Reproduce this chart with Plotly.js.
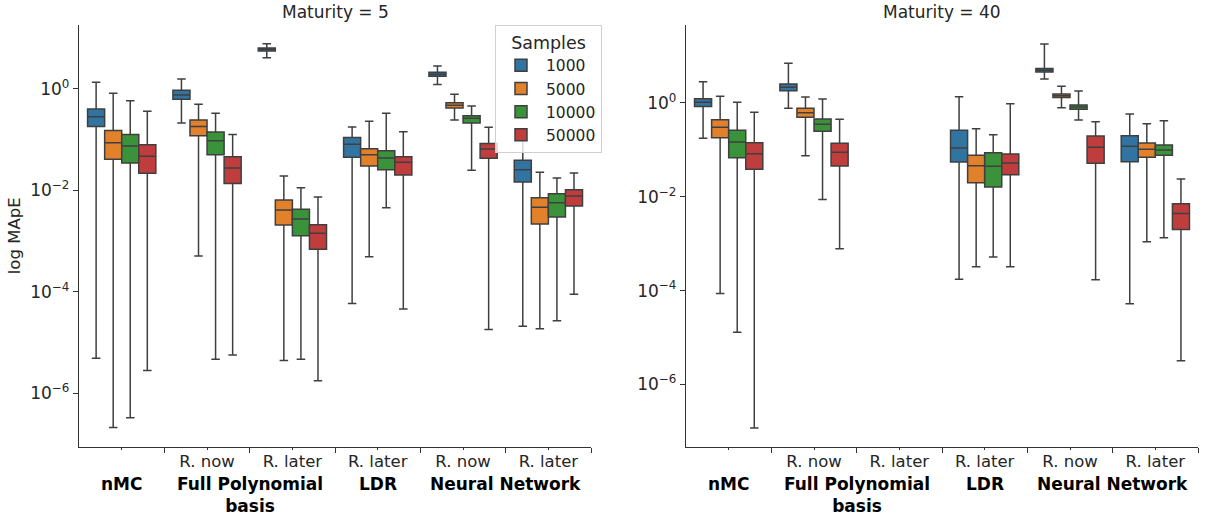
<!DOCTYPE html>
<html>
<head>
<meta charset="utf-8">
<script src="https://cdn.plot.ly/plotly-3.0.1.min.js"></script>
<style>html,body{margin:0;padding:0;background:#fff}#chart{width:1205px;height:515px}</style>
</head>
<body>
<div id="chart"></div>
<script>
// ---- categories ----
const methods   = ['nMC', 'Full Polynomial<br>basis', 'Full Polynomial<br>basis', 'LDR', 'Neural Network', 'Neural Network'];
const subLabels = ['', 'R. now', 'R. later', 'R. later', 'R. now', 'R. later'];
const samples   = ['1000', '5000', '10000', '50000'];
const panelTitles = ['Maturity = 5', 'Maturity = 40'];
const yTickVals = [1e-6, 1e-4, 1e-2, 1];
const yTickText = ['10<sup>−6</sup>', '10<sup>−4</sup>', '10<sup>−2</sup>', '10<sup>0</sup>'];

// ---- Maturity = 5 (rows: samples 1000, 5000, 10000, 50000) ----
const m5_hi = [
  [1.36, 1.57, 7.83, 0.178, 2.84, 0.097],
  [0.822, 0.499, 0.0192, 0.231, 0.785, 0.0228],
  [0.587, 0.331, 0.0113, 0.331, 0.462, 0.0176],
  [0.363, 0.126, 0.00741, 0.144, 0.175, 0.022]
];
const m5_q3 = [
  [0.404, 0.942, 6.44, 0.110, 2.13, 0.0393],
  [0.151, 0.245, 0.00647, 0.0665, 0.537, 0.00718],
  [0.126, 0.142, 0.00424, 0.0607, 0.298, 0.00861],
  [0.0798, 0.0462, 0.00211, 0.0462, 0.0836, 0.0103]
];
const m5_med = [
  [0.284, 0.762, 6.05, 0.0811, 1.95, 0.0256],
  [0.0873, 0.181, 0.0041, 0.0507, 0.476, 0.00465],
  [0.0752, 0.0957, 0.00273, 0.0436, 0.264, 0.00571],
  [0.047, 0.0277, 0.00143, 0.0358, 0.0656, 0.00776]
];
const m5_q1 = [
  [0.181, 0.627, 5.62, 0.045, 1.78, 0.0147],
  [0.041, 0.12, 0.00208, 0.0303, 0.422, 0.00217],
  [0.0347, 0.0507, 0.00128, 0.0256, 0.213, 0.00299],
  [0.0217, 0.0136, 0.00069, 0.0201, 0.043, 0.00492]
];
const m5_lo = [
  [4.9e-6, 0.213, 4.15, 5.9e-5, 1.22, 2.1e-5],
  [2.1e-7, 5.1e-4, 4.4e-6, 4.9e-4, 0.245, 1.87e-5],
  [3.3e-7, 4.7e-6, 4.7e-6, 0.00456, 0.0249, 2.7e-5],
  [2.8e-6, 5.7e-6, 1.77e-6, 4.6e-5, 1.8e-5, 8.9e-5]
];

// ---- Maturity = 40 ----
const m40_hi = [
  [2.85, 7.01, null, 1.36, 18.2, 0.582],
  [1.39, 1.34, null, 0.283, 2.27, 0.362],
  [1.035, 1.22, null, 0.211, 1.8, 0.42],
  [0.632, 0.448, null, 0.968, 0.399, 0.0239]
];
const m40_q3 = [
  [1.236, 2.54, null, 0.261, 5.4, 0.201],
  [0.441, 0.769, null, 0.0764, 1.56, 0.14],
  [0.261, 0.455, null, 0.0871, 0.906, 0.127],
  [0.142, 0.138, null, 0.0815, 0.198, 0.0071]
];
const m40_med = [
  [1.03, 2.16, null, 0.11, 4.98, 0.119],
  [0.303, 0.622, null, 0.046, 1.43, 0.103],
  [0.147, 0.35, null, 0.0445, 0.822, 0.0993],
  [0.0828, 0.0885, null, 0.0524, 0.113, 0.00442]
];
const m40_q1 = [
  [0.836, 1.83, null, 0.0551, 4.58, 0.056],
  [0.182, 0.494, null, 0.02, 1.3, 0.0693],
  [0.0679, 0.248, null, 0.0161, 0.734, 0.0764],
  [0.0385, 0.0452, null, 0.0295, 0.0516, 0.00201]
];
const m40_lo = [
  [0.176, 0.769, null, 1.75e-4, 3.25, 5.2e-5],
  [8.7e-5, 0.075, null, 3.2e-4, 0.794, 0.0011],
  [1.29e-5, 0.00877, null, 5.2e-4, 0.434, 0.00133],
  [1.17e-7, 7.8e-4, null, 3.2e-4, 1.7e-4, 3.2e-6]
];

// ---- styling ----
const colors = ['#3274a1', '#e1812c', '#3a923a', '#c03d3e'];
const lineColor = '#3f3f3f';
const FONT = 'DejaVu Sans, Liberation Sans, sans-serif';

const panels = [
  {lo: m5_lo, q1: m5_q1, med: m5_med, q3: m5_q3, hi: m5_hi, xa: 'x', ya: 'y'},
  {lo: m40_lo, q1: m40_q1, med: m40_med, q3: m40_q3, hi: m40_hi, xa: 'x2', ya: 'y2'}
];

const traces = [];
panels.forEach((p, pi) => {
  samples.forEach((s, si) => {
    const idx = subLabels.map((_, i) => i).filter(i => p.med[si][i] !== null);
    traces.push({
      type: 'box',
      name: s,
      legendgroup: s,
      showlegend: pi === 0,
      alignmentgroup: 'panel' + pi,
      offsetgroup: s,
      x: idx,
      q1: idx.map(i => p.q1[si][i]),
      median: idx.map(i => p.med[si][i]),
      q3: idx.map(i => p.q3[si][i]),
      lowerfence: idx.map(i => p.lo[si][i]),
      upperfence: idx.map(i => p.hi[si][i]),
      boxpoints: false,
      fillcolor: colors[si],
      line: {color: lineColor, width: 1.5},
      whiskerwidth: 0.5,
      xaxis: p.xa,
      yaxis: p.ya,
      hoverinfo: 'skip'
    });
  });
});

const centers = subLabels.map((_, i) => i);
const bounds = subLabels.map((_, i) => i + 0.5);

function xAxis(domain, anchor) {
  return {
    domain: domain, anchor: anchor, range: [-0.5, 5.5],
    showgrid: false, zeroline: false, showline: true, linecolor: '#333', linewidth: 1.2,
    tickmode: 'array', tickvals: centers, ticktext: subLabels,
    ticks: 'outside', ticklen: 2, tickcolor: '#333', tickwidth: 1,
    ticklabelstandoff: -3,
    tickfont: {family: FONT, size: 16.5, color: '#262626'},
    minor: {tickmode: 'array', tickvals: bounds, ticks: 'outside', ticklen: 5, tickcolor: '#333', tickwidth: 1, showgrid: false},
    fixedrange: true
  };
}
function yAxis(range, anchor, title) {
  return {
    type: 'log', range: range, domain: [0.1326, 0.9515], anchor: anchor,
    showgrid: false, zeroline: false, showline: true, linecolor: '#333', linewidth: 1.2,
    tickmode: 'array', tickvals: yTickVals, ticktext: yTickText,
    ticks: 'outside', ticklen: 5, tickcolor: '#333', tickwidth: 1,
    tickfont: {family: FONT, size: 17, color: '#262626'},
    title: title ? {text: title, font: {family: FONT, size: 16.5, color: '#262626'}, standoff: 5} : {text: ''},
    fixedrange: true
  };
}

const annotations = [];
const dom = [[0.0656, 0.4905], [0.5693, 0.9942]];
panelTitles.forEach((t, pi) => {
  annotations.push({
    text: t, xref: 'paper', yref: 'paper',
    x: (dom[pi][0] + dom[pi][1]) / 2, y: 1 - 12 / 515,
    xanchor: 'center', yanchor: 'middle', showarrow: false,
    font: {family: FONT, size: 17, color: '#262626'}
  });
  // group labels: centered on the span of their sub-categories
  const seen = [];
  methods.forEach((m, i) => {
    if (seen.includes(m)) return;
    seen.push(m);
    const ids = methods.map((mm, j) => mm === m ? j : -1).filter(j => j >= 0);
    const cx = (ids[0] + ids[ids.length - 1]) / 2;
    annotations.push({
      text: '<b>' + m + '</b>', xref: pi === 0 ? 'x' : 'x2', yref: 'paper',
      x: cx, y: 1 - 472 / 515, xanchor: 'center', yanchor: 'top', showarrow: false,
      font: {family: FONT, size: 17, color: '#000'}, align: 'center'
    });
  });
});

const layout = {
  width: 1205, height: 515,
  margin: {l: 0, r: 0, t: 0, b: 0},
  paper_bgcolor: '#fff', plot_bgcolor: '#fff',
  boxmode: 'group', boxgap: 0.2, boxgroupgap: 0,
  xaxis: xAxis(dom[0], 'y'),
  yaxis: yAxis([-7.055, 1.262], 'x', 'log MApE'),
  xaxis2: xAxis(dom[1], 'y2'),
  yaxis2: yAxis([-7.33, 1.663], 'x2', null),
  showlegend: true,
  legend: {
    x: 495 / 1205, y: 1 - 25 / 515, xanchor: 'left', yanchor: 'top',
    bgcolor: 'rgba(255,255,255,0.8)', bordercolor: '#d0d0d0', borderwidth: 1,
    title: {text: 'Samples', side: 'top center', font: {family: FONT, size: 17.5, color: '#262626'}},
    font: {family: FONT, size: 15.5, color: '#262626'},
    itemwidth: 40, tracegroupgap: 0
  },
  annotations: annotations,
  font: {family: FONT}
};

Plotly.newPlot('chart', traces, layout, {staticPlot: true, displayModeBar: false});
</script>
</body>
</html>
